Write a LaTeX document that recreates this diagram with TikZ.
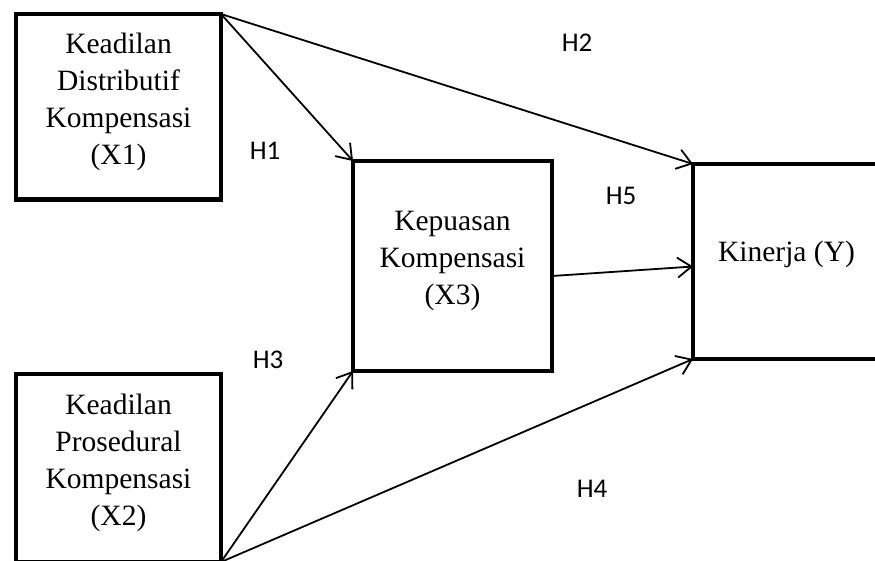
\documentclass[tikz,border=0pt]{standalone}
\usepackage{fontspec}
\setmainfont{Liberation Serif}
\newfontfamily\lblfont{Carlito}
\usetikzlibrary{arrows.meta}
\begin{document}
\begin{tikzpicture}[x=1pt,y=-1pt,
  box/.style={draw, line width=4.5pt, inner sep=0pt, outer sep=0pt, anchor=north west},
  boxtext/.style={align=center, inner sep=0pt, font=\fontsize{29.5}{37}\selectfont, yshift=5pt},
  hyp/.style={font=\lblfont\fontsize{27}{30}\selectfont, inner sep=0pt},
  link/.style={line width=1.8pt, -{Straight Barb[length=14pt,width=20pt,line width=1.8pt]}}
]
\useasboundingbox (0,0) rectangle (875,560);
\clip (0,0) rectangle (875,560);
\fill[white] (0,0) rectangle (875,560);

\node[box, minimum width=205pt, minimum height=185.5pt] (X1) at (16,14) {};
\node[box, minimum width=205pt, minimum height=188pt] (X2) at (16,374) {};
\node[box, minimum width=199pt, minimum height=210pt] (X3) at (353,161) {};
\node[box, minimum width=187pt, minimum height=195pt] (Y) at (693,164) {};

\node[boxtext] (X1t) at (X1.center) {Keadilan\\Distributif\\Kompensasi\\(X1)};
\node[boxtext] (X2t) at (X2.center) {Keadilan\\Prosedural\\Kompensasi\\(X2)};
\node[boxtext] (X3t) at (X3.center) {Kepuasan\\Kompensasi\\(X3)};
\node[boxtext, yshift=2pt] (Yt) at (Y.center) {Kinerja (Y)};

\draw[link] (X1.north east) -- (X3.north west);
\draw[link] (X1.north east) -- (Y.north west);
\draw[link] ([yshift=-10pt]X3.east) -- ([yshift=-5pt]Y.west);
\draw[link] (X2.south east) -- (X3.south west);
\draw[link] (X2.south east) -- (Y.south west);

\node[hyp] (H1) at (265,151) {H1};
\node[hyp] (H2) at (577,43) {H2};
\node[hyp] (H3) at (268,360) {H3};
\node[hyp] (H4) at (592,489) {H4};
\node[hyp] (H5) at (621,196) {H5};
\end{tikzpicture}
\end{document}
